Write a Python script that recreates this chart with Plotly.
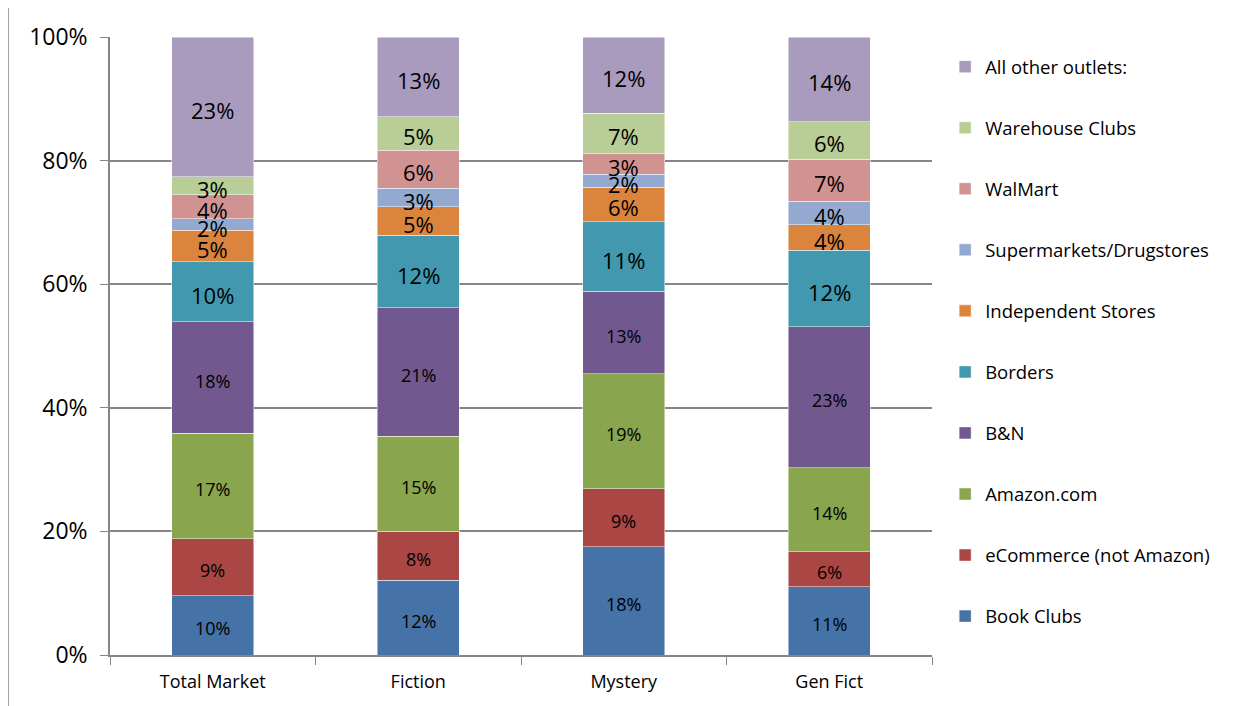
import plotly.graph_objects as go

categories = ["Total Market", "Fiction", "Mystery", "Gen Fict"]

series_names = [
    "Book Clubs", "eCommerce (not Amazon)", "Amazon.com", "B&N", "Borders",
    "Independent Stores", "Supermarkets/Drugstores", "WalMart", "Warehouse Clubs",
    "All other outlets:",
]

book_clubs = [9.6, 12.1, 17.5, 11.05]
ecommerce = [9.2, 7.9, 9.4, 5.65]
amazon = [17.1, 15.4, 18.6, 13.6]
bn = [18.0, 20.8, 13.35, 22.8]
borders = [9.75, 11.7, 11.25, 12.4]
independent = [5.05, 4.6, 5.6, 4.1]
supermarkets = [1.9, 3.0, 2.1, 3.8]
walmart = [3.9, 6.2, 3.3, 6.85]
warehouse = [2.9, 5.4, 6.6, 6.05]
others = [22.6, 12.9, 12.3, 13.7]

values = [book_clubs, ecommerce, amazon, bn, borders, independent,
          supermarkets, walmart, warehouse, others]

colors = ["#4572A7", "#AA4643", "#89A54E", "#71588F", "#4198AF",
          "#DB843D", "#93A9CF", "#D19392", "#B9CD96", "#A99BBD"]

label_sizes = [18, 18, 18, 18, 22, 22, 22, 22, 22, 22]

FONT = "Open Sans"

fig = go.Figure()

base = [0.0] * len(categories)
for i, (name, vals, col, ls) in enumerate(zip(series_names, values, colors, label_sizes)):
    fig.add_trace(go.Bar(
        name=name, x=categories, y=[v / 100 for v in vals],
        marker=dict(color=col, line=dict(color="rgba(255,255,255,0.6)", width=0.8)),
        width=0.4, legendgroup=name, legendrank=1000 - i,
    ))
    mids = [(b + v / 2) / 100 for b, v in zip(base, vals)]
    for cat, m, v in zip(categories, mids, vals):
        fig.add_annotation(
            x=cat, y=m, xref="x", yref="y", text=f"{round(v):.0f}%",
            showarrow=False, yshift=-3,
            font=dict(family=FONT, size=ls, color="black"),
        )
    base = [b + v for b, v in zip(base, vals)]

fig.update_layout(
    barmode="stack",
    width=1235, height=698,
    margin=dict(l=102, r=311, t=29, b=51),
    plot_bgcolor="white", paper_bgcolor="white",
    font=dict(family=FONT, color="black"),
    showlegend=True,
    legend=dict(
        x=1.016, y=0.982, xanchor="left", yanchor="top",
        traceorder="grouped", tracegroupgap=34,
        font=dict(family=FONT, size=18.5, color="black"),
        bgcolor="rgba(0,0,0,0)",
    ),
    xaxis=dict(
        range=[-0.5, 3.5], tickson="boundaries", ticks="outside", ticklen=8,
        tickcolor="#868686", showline=True, linecolor="#868686", linewidth=1.5,
        showgrid=False, ticklabelstandoff=10,
        tickfont=dict(family=FONT, size=18, color="black"),
    ),
    yaxis=dict(
        range=[0, 1], tickvals=[0, 0.2, 0.4, 0.6, 0.8, 1.0], tickformat=".0%",
        ticks="outside", ticklen=8, tickcolor="#868686", showline=True,
        linecolor="#868686", linewidth=1.5, showgrid=True, gridcolor="#868686",
        gridwidth=1.5, zeroline=False, ticklabelstandoff=8,
        tickfont=dict(family=FONT, size=23, color="black"),
    ),
    shapes=[dict(type="line", xref="paper", yref="paper",
                 x0=(0 - 102) / 822, x1=(0 - 102) / 822, y0=-0.1, y1=1.06,
                 line=dict(color="#868686", width=1.5))],
)

fig.write_html("out.html")
